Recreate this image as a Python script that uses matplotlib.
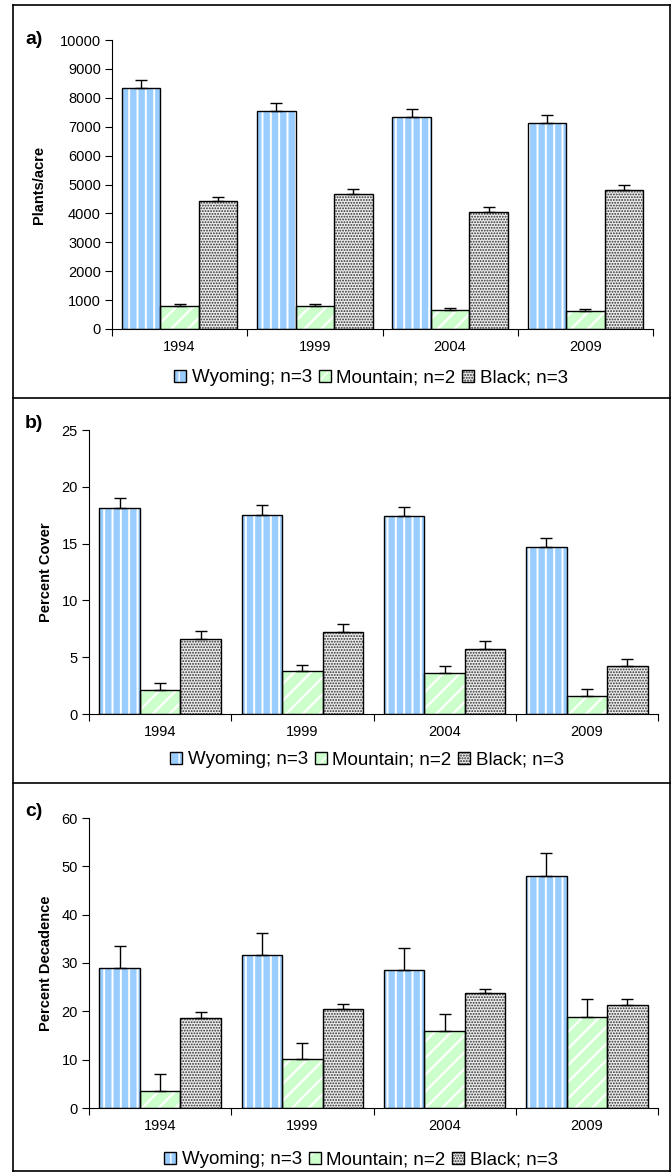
import matplotlib
matplotlib.use("Agg")
import matplotlib.pyplot as plt
import numpy as np
from matplotlib.lines import Line2D
from matplotlib.legend_handler import HandlerTuple

plt.rcParams['font.family'] = ['Liberation Sans', 'DejaVu Sans']

years = ['1994', '1999', '2004', '2009']
series_names = ['Wyoming; n=3', 'Mountain; n=2', 'Black; n=3']

# a) density
density_wy = [8350, 7550, 7320, 7130]
density_wy_err = [280, 280, 300, 290]
density_mt = [800, 800, 670, 620]
density_mt_err = [50, 50, 60, 60]
density_bk = [4430, 4660, 4040, 4800]
density_bk_err = [150, 170, 170, 180]

# b) cover
cover_wy = [18.1, 17.5, 17.4, 14.7]
cover_wy_err = [0.9, 0.9, 0.8, 0.8]
cover_mt = [2.1, 3.75, 3.6, 1.6]
cover_mt_err = [0.65, 0.55, 0.6, 0.6]
cover_bk = [6.6, 7.2, 5.7, 4.2]
cover_bk_err = [0.7, 0.7, 0.75, 0.65]

# c) decadence
decad_wy = [29.0, 31.6, 28.6, 48.1]
decad_wy_err = [4.5, 4.6, 4.6, 4.6]
decad_mt = [3.5, 10.1, 15.9, 18.9]
decad_mt_err = [3.5, 3.4, 3.6, 3.6]
decad_bk = [18.6, 20.5, 23.7, 21.3]
decad_bk_err = [1.2, 1.1, 0.9, 1.2]

W, H = 671, 1172
DPI = 100
fig = plt.figure(figsize=(W / DPI, H / DPI), dpi=DPI)

styles = [
    dict(face='#99CCFF', hatch='||', hcolor='white', hlw=1.4),
    dict(face='#CCFFCC', hatch='//', hcolor='white', hlw=1.6),
    dict(face='#ececec', hatch='......', hcolor='#303030', hlw=0.9),
]


def px_axes(left, right, top, bottom):
    return fig.add_axes([left / W, 1 - bottom / H, (right - left) / W, (bottom - top) / H])


def set_hatch_lw(patch, lw):
    if hasattr(patch, 'set_hatch_linewidth'):
        patch.set_hatch_linewidth(lw)


def draw_panel(ax, values, errors, ymax, ystep, ylabel):
    x = np.arange(len(years))
    bw = 0.285
    offsets = [-bw, 0.0, bw]
    handles = []
    for k, (vals, errs, st) in enumerate(zip(values, errors, styles)):
        xs = x + offsets[k]
        fill = ax.bar(xs, vals, bw, color=st['face'], hatch=st['hatch'],
                      edgecolor=st['hcolor'], linewidth=0, zorder=2)
        for p in fill:
            set_hatch_lw(p, st['hlw'])
        outline = ax.bar(xs, vals, bw, facecolor='none', edgecolor='black',
                         linewidth=1.0, zorder=3)
        ax.errorbar(xs, vals, yerr=[np.zeros(len(vals)), errs], fmt='none',
                    ecolor='black', elinewidth=1.0, capsize=4, capthick=1.0,
                    zorder=4)
        handles.append((fill[0], outline[0]))
    ax.set_xlim(-0.5, len(years) - 0.5)
    ax.set_ylim(0, ymax)
    ax.set_yticks(np.arange(0, ymax + ystep / 2, ystep))
    ax.set_xticks(x)
    ax.set_xticklabels(years)
    ax.set_xticks(np.arange(-0.5, len(years)), minor=True)
    ax.tick_params(axis='x', which='major', length=0, pad=8, labelsize=10.5)
    ax.tick_params(axis='x', which='minor', length=5, width=0.8, direction='out')
    ax.tick_params(axis='y', length=5, width=0.8, direction='out', labelsize=10.5, pad=3)
    for s in ['top', 'right']:
        ax.spines[s].set_visible(False)
    for s in ['left', 'bottom']:
        ax.spines[s].set_linewidth(0.8)
    ax.set_ylabel(ylabel, fontsize=10.5, fontweight='bold')
    return handles


def add_legend(handles, cx, cy):
    fig.legend(handles, series_names, loc='center', bbox_to_anchor=(cx / W, 1 - cy / H),
               ncol=3, frameon=False, fontsize=13.5, handlelength=0.65,
               handleheight=0.65, handletextpad=0.3, columnspacing=0.35,
               borderpad=0, handler_map={tuple: HandlerTuple(ndivide=1)})


ax_a = px_axes(112, 653, 40, 329)
h = draw_panel(ax_a, [density_wy, density_mt, density_bk],
               [density_wy_err, density_mt_err, density_bk_err],
               10000, 1000, 'Plants/acre')
ax_a.yaxis.set_label_coords(-(112 - 46) / (653 - 112), 0.5)
add_legend(h, 371, 378)

ax_b = px_axes(89, 658, 430, 714)
h = draw_panel(ax_b, [cover_wy, cover_mt, cover_bk],
               [cover_wy_err, cover_mt_err, cover_bk_err],
               25, 5, 'Percent Cover')
ax_b.yaxis.set_label_coords(-(89 - 53) / (658 - 89), 0.5)
add_legend(h, 367, 760)

ax_c = px_axes(89, 658, 818, 1108)
h = draw_panel(ax_c, [decad_wy, decad_mt, decad_bk],
               [decad_wy_err, decad_mt_err, decad_bk_err],
               60, 10, 'Percent Decadence')
ax_c.yaxis.set_label_coords(-(89 - 53) / (658 - 89), 0.5)
add_legend(h, 361, 1160)

# panel letters
for lab, yy in [('a)', 40), ('b)', 423), ('c)', 812)]:
    fig.text(25 / W, 1 - yy / H, lab, fontsize=14, fontweight='bold',
             ha='left', va='center')

# panel frames
def fline(x0, y0, x1, y1):
    fig.add_artist(Line2D([x0 / W, x1 / W], [1 - y0 / H, 1 - y1 / H],
                          color='black', linewidth=1.2, transform=fig.transFigure))

fline(13, 5, 670, 5)
fline(13, 398, 670, 398)
fline(13, 783, 670, 783)
fline(13, 1171, 670, 1171)
fline(13, 5, 13, 1172)
fline(670, 5, 670, 1172)

fig.savefig('out.png', dpi=DPI)
